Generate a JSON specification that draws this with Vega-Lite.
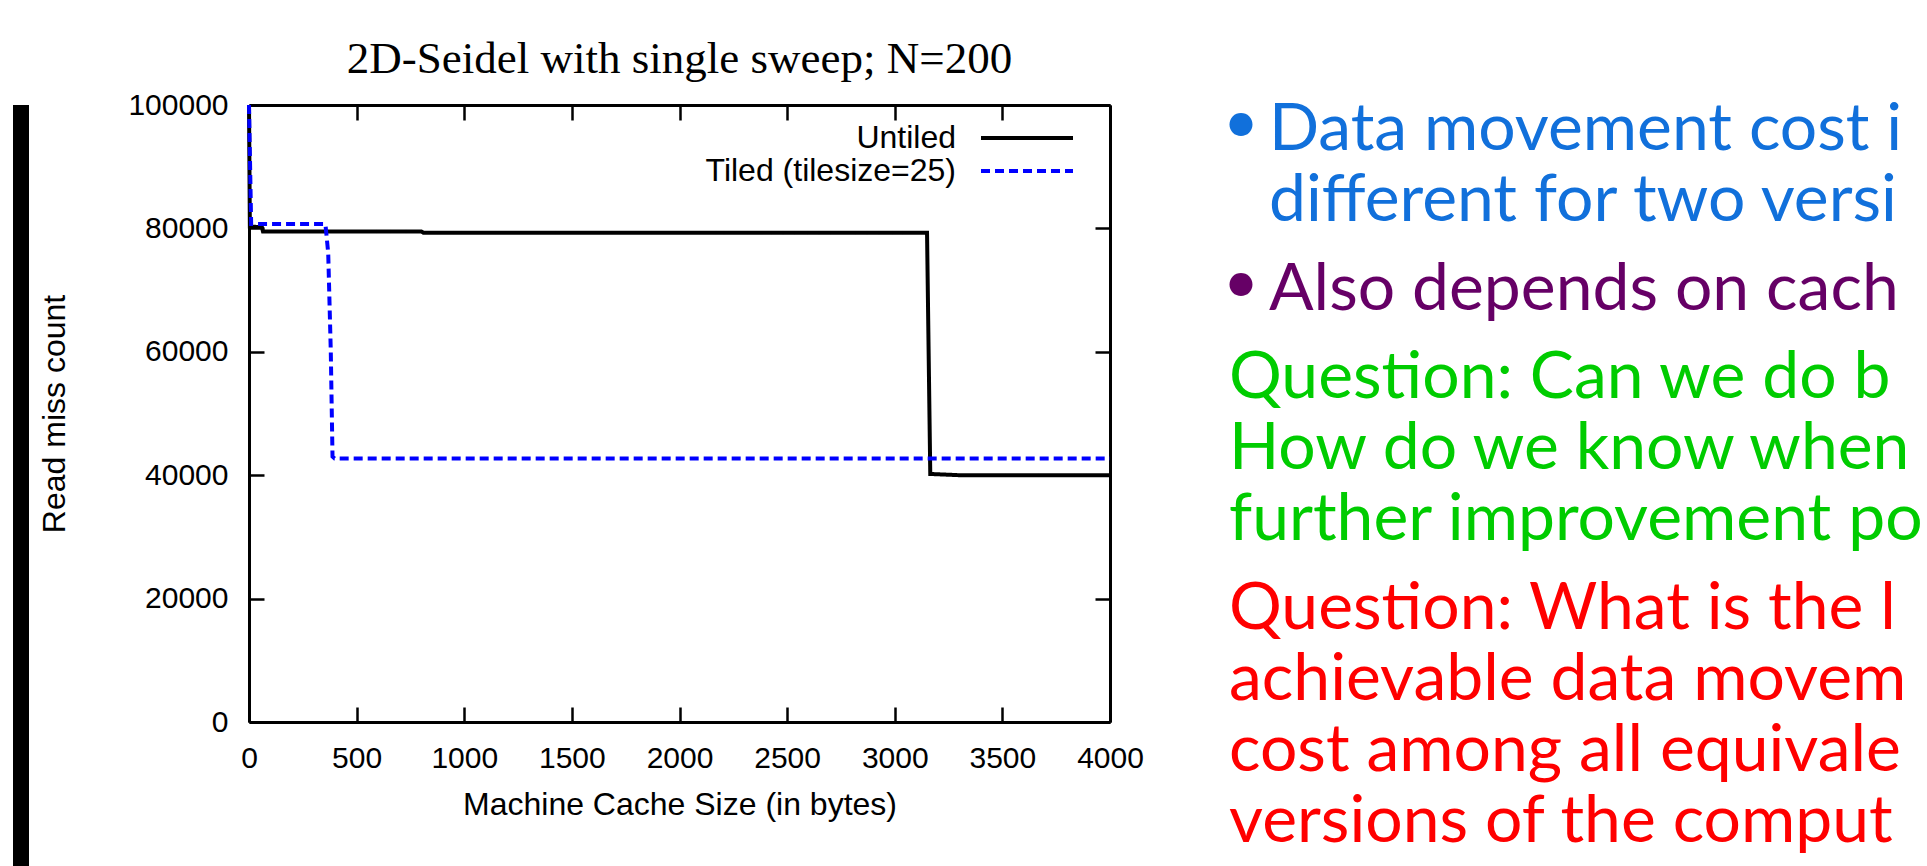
{
  "$schema": "https://vega.github.io/schema/vega-lite/v6.json",
  "padding": {"left": 13, "top": 0, "right": 0, "bottom": 0},
  "background": "white",
  "config": {
    "view": {"stroke": null},
    "axis": {
      "grid": false,
      "domainColor": "black",
      "domainWidth": 3,
      "tickColor": "black",
      "tickWidth": 2.5,
      "tickSize": -15,
      "labelFont": "Liberation Sans",
      "labelFontSize": 30,
      "labelColor": "black",
      "labelFlush": false,
      "labelOverlap": false,
      "titleFont": "Liberation Sans",
      "titleFontSize": 32,
      "titleFontWeight": "normal",
      "titleColor": "black"
    }
  },
  "columns": 3,
  "align": "none",
  "spacing": 9,
  "resolve": {
    "scale": {"color": "independent", "strokeDash": "independent"},
    "legend": {"color": "independent", "strokeDash": "independent"}
  },
  "concat": [
    {
      "width": 16,
      "height": 761,
      "data": {"values": [{"part": "slide edge"}]},
      "mark": {"type": "rect", "color": "black"},
      "encoding": {}
    },
    {
      "width": 861,
      "height": 617,
      "title": {
        "text": ["", "2D-Seidel with single sweep; N=200"],
        "font": "Liberation Serif",
        "fontSize": 45,
        "fontWeight": "normal",
        "color": "black",
        "anchor": "middle",
        "baseline": "bottom",
        "lineHeight": 37,
        "offset": -37
      },
      "data": {
        "values": [
          {"series": "Untiled", "cache": 0, "misses": 100000},
          {"series": "Untiled", "cache": 4, "misses": 80300},
          {"series": "Untiled", "cache": 60, "misses": 80200},
          {"series": "Untiled", "cache": 65, "misses": 79500},
          {"series": "Untiled", "cache": 800, "misses": 79500},
          {"series": "Untiled", "cache": 810, "misses": 79300},
          {"series": "Untiled", "cache": 3150, "misses": 79300},
          {"series": "Untiled", "cache": 3165, "misses": 40200},
          {"series": "Untiled", "cache": 3300, "misses": 40000},
          {"series": "Untiled", "cache": 4000, "misses": 40000},
          {"series": "Tiled (tilesize=25)", "cache": 0, "misses": 100000},
          {"series": "Tiled (tilesize=25)", "cache": 10, "misses": 80700},
          {"series": "Tiled (tilesize=25)", "cache": 355, "misses": 80700},
          {"series": "Tiled (tilesize=25)", "cache": 368, "misses": 76000},
          {"series": "Tiled (tilesize=25)", "cache": 380, "misses": 60000},
          {"series": "Tiled (tilesize=25)", "cache": 388, "misses": 43000},
          {"series": "Tiled (tilesize=25)", "cache": 398, "misses": 42700},
          {"series": "Tiled (tilesize=25)", "cache": 4000, "misses": 42700}
        ]
      },
      "layer": [
        {
          "transform": [{"filter": "datum.series === 'Untiled'"}],
          "mark": {"type": "line", "strokeWidth": 4},
          "encoding": {
            "x": {
              "field": "cache", "type": "quantitative",
              "scale": {"domain": [0, 4000], "nice": false, "zero": true},
              "axis": {
                "orient": "bottom",
                "values": [0, 500, 1000, 1500, 2000, 2500, 3000, 3500, 4000],
                "format": "d",
                "labelPadding": 36,
                "title": "Machine Cache Size (in bytes)",
                "titlePadding": 16
              }
            },
            "y": {
              "field": "misses", "type": "quantitative",
              "scale": {"domain": [0, 100000], "nice": false},
              "axis": {
                "orient": "left",
                "values": [0, 20000, 40000, 60000, 80000, 100000],
                "format": "d",
                "labelPadding": 36,
                "title": "Read miss count",
                "titlePadding": 56
              }
            },
            "color": {
              "field": "series", "type": "nominal",
              "scale": {"domain": ["Untiled", "Tiled (tilesize=25)"], "range": ["#000000", "#0000FF"]},
              "legend": {
                "orient": "none", "legendX": 762, "legendY": 17, "title": null,
                "symbolType": "M-4.6,0H4.6", "symbolSize": 400, "symbolStrokeWidth": 4,
                "labelAlign": "right", "labelOffset": -87, "labelBaseline": "middle",
                "labelFont": "Liberation Sans", "labelFontSize": 32, "labelColor": "black",
                "labelLimit": 500, "rowPadding": 1, "padding": 0
              }
            },
            "strokeDash": {
              "field": "series", "type": "nominal",
              "scale": {"domain": ["Untiled", "Tiled (tilesize=25)"], "range": [[1, 0], [9, 5]]},
              "legend": {
                "orient": "none", "legendX": 762, "legendY": 17, "title": null,
                "symbolType": "M-4.6,0H4.6", "symbolSize": 400, "symbolStrokeWidth": 4,
                "labelAlign": "right", "labelOffset": -87, "labelBaseline": "middle",
                "labelFont": "Liberation Sans", "labelFontSize": 32, "labelColor": "black",
                "labelLimit": 500, "rowPadding": 1, "padding": 0
              }
            }
          }
        },
        {
          "transform": [{"filter": "datum.series !== 'Untiled'"}],
          "mark": {"type": "line", "strokeWidth": 4},
          "encoding": {
            "x": {
              "field": "cache", "type": "quantitative",
              "scale": {"domain": [0, 4000], "nice": false, "zero": true},
              "axis": {
                "orient": "top",
                "values": [0, 500, 1000, 1500, 2000, 2500, 3000, 3500, 4000],
                "labels": false,
                "title": null
              }
            },
            "y": {
              "field": "misses", "type": "quantitative",
              "scale": {"domain": [0, 100000], "nice": false},
              "axis": {
                "orient": "right",
                "values": [0, 20000, 40000, 60000, 80000, 100000],
                "labels": false,
                "title": null
              }
            },
            "color": {"field": "series", "type": "nominal"},
            "strokeDash": {"field": "series", "type": "nominal"}
          }
        }
      ],
      "resolve": {"scale": {"x": "independent", "y": "independent"}}
    },
    {
      "width": 772,
      "height": 761,
      "data": {
        "values": [
          {"line": 1, "para": 1, "indent": 0, "kind": "bullet", "text": "•"},
          {"line": 3, "para": 2, "indent": 0, "kind": "bullet", "text": "•"},
          {"line": 1, "para": 1, "indent": 1, "kind": "text", "text": "Data movement cost is"},
          {"line": 2, "para": 1, "indent": 1, "kind": "text", "text": "different for two versions"},
          {"line": 3, "para": 2, "indent": 1, "kind": "text", "text": "Also depends on cache size"},
          {"line": 4, "para": 3, "indent": 0, "kind": "text", "text": "Question: Can we do better?"},
          {"line": 5, "para": 3, "indent": 0, "kind": "text", "text": "How do we know when no"},
          {"line": 6, "para": 3, "indent": 0, "kind": "text", "text": "further improvement possible?"},
          {"line": 7, "para": 4, "indent": 0, "kind": "text", "text": "Question: What is the lowest"},
          {"line": 8, "para": 4, "indent": 0, "kind": "text", "text": "achievable data movement"},
          {"line": 9, "para": 4, "indent": 0, "kind": "text", "text": "cost among all equivalent"},
          {"line": 10, "para": 4, "indent": 0, "kind": "text", "text": "versions of the computation?"}
        ]
      },
      "encoding": {
        "x": {"field": "indent", "type": "quantitative", "scale": {"domain": [0, 1], "range": [76, 116]}, "axis": null},
        "y": {"field": "line", "type": "ordinal", "scale": {"paddingInner": 0, "paddingOuter": 0.359, "align": 0.705}, "axis": null},
        "yOffset": {"field": "para", "type": "ordinal"},
        "color": {"field": "para", "type": "nominal", "scale": {"domain": [1, 2, 3, 4], "range": ["#1170DB", "#660066", "#00CC00", "#FF0000"]}, "legend": null},
        "text": {"field": "text"}
      },
      "layer": [
        {
          "transform": [{"filter": "datum.kind === 'bullet'"}],
          "mark": {"type": "text", "font": "Lato", "fontSize": 62, "align": "left", "baseline": "alphabetic", "dx": -6, "dy": -7}
        },
        {
          "transform": [{"filter": "datum.kind === 'text' && datum.indent === 1"}],
          "mark": {"type": "text", "font": "Lato", "fontSize": 66, "align": "left", "baseline": "alphabetic", "limit": 655, "ellipsis": "\u200b"}
        },
        {
          "transform": [{"filter": "datum.kind === 'text' && datum.indent === 0"}],
          "mark": {"type": "text", "font": "Lato", "fontSize": 66, "align": "left", "baseline": "alphabetic", "limit": 695, "ellipsis": "\u200b"}
        }
      ]
    }
  ]
}
